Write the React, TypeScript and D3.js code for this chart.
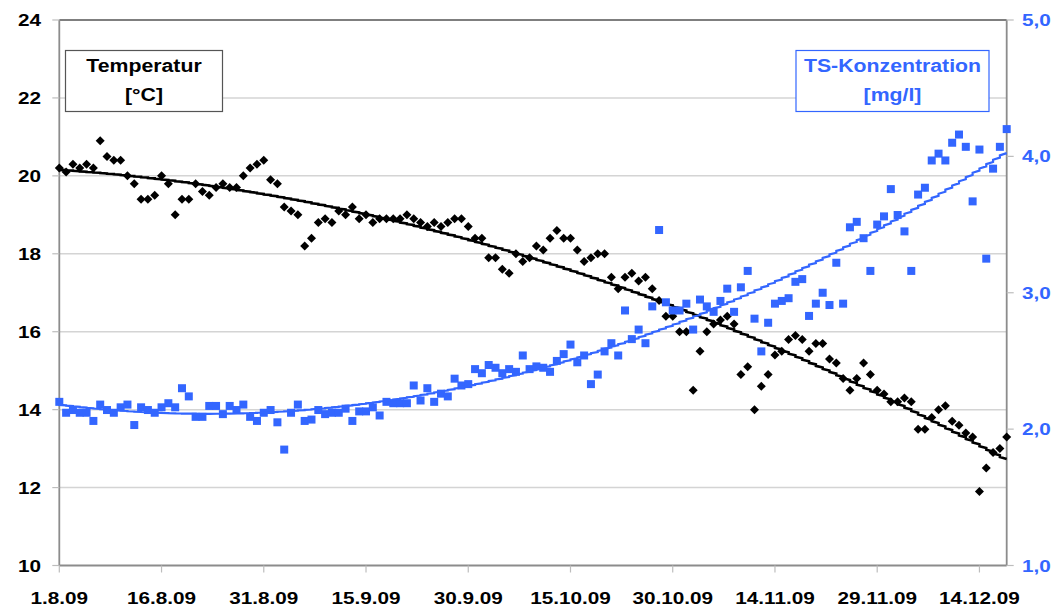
import React, { useEffect, useRef } from 'react';
import * as d3 from 'd3';

// Tageswerte ab 1.8.09
const startDate = new Date(2009, 7, 1);
const endDate = new Date(2009, 11, 18);

const temperatur = [
  20.2, 20.1, 20.3, 20.2, 20.3, 20.2, 20.9, 20.5, 20.4, 20.4,
  20.0, 19.8, 19.4, 19.4, 19.5, 20.0, 19.8, 19.0, 19.4, 19.4,
  19.8, 19.6, 19.5, 19.7, 19.8, 19.7, 19.7, 20.0, 20.2, 20.3,
  20.4, 19.9, 19.8, 19.2, 19.1, 19.0, 18.2, 18.4, 18.8, 18.9,
  18.8, 19.1, 19.0, 19.2, 18.9, 19.0, 18.8, 18.9, 18.9, 18.9,
  18.9, 19.0, 18.9, 18.8, 18.7, 18.8, 18.7, 18.8, 18.9, 18.9,
  18.7, 18.4, 18.4, 17.9, 17.9, 17.6, 17.5, 18.0, 17.8, 17.9,
  18.2, 18.1, 18.4, 18.6, 18.4, 18.4, 18.1, 17.8, 17.9, 18.0,
  18.0, 17.4, 17.1, 17.4, 17.5, 17.3, 17.4, 17.1, 16.8, 16.4,
  16.4, 16.0, 16.0, 14.5, 15.5, 16.0, 16.2, 16.3, 16.4, 16.2,
  14.9, 15.1, 14.0, 14.6, 14.9, 15.4, 15.5, 15.8, 15.9, 15.8,
  15.5, 15.7, 15.7, 15.3, 15.2, 14.8, 14.5, 14.8, 15.2, 14.9,
  14.5, 14.4, 14.2, 14.2, 14.3, 14.2, 13.5, 13.5, 13.8, 14.0,
  14.1, 13.7, 13.6, 13.4, 13.3, 11.9, 12.5, 12.9, 13.0, 13.3,
];

const tsKonzentration = [
  2.20, 2.12, 2.14, 2.12, 2.12, 2.06, 2.18, 2.14, 2.12, 2.16,
  2.18, 2.03, 2.16, 2.14, 2.12, 2.16, 2.19, 2.16, 2.30, 2.24,
  2.09, 2.09, 2.17, 2.17, 2.11, 2.17, 2.14, 2.18, 2.09, 2.06,
  2.12, 2.14, 2.05, 1.85, 2.12, 2.18, 2.06, 2.07, 2.14, 2.11,
  2.12, 2.12, 2.15, 2.06, 2.13, 2.13, 2.16, 2.10, 2.20, 2.19,
  2.19, 2.19, 2.32, 2.21, 2.30, 2.20, 2.26, 2.24, 2.37, 2.32,
  2.33, 2.44, 2.41, 2.47, 2.45, 2.41, 2.44, 2.42, 2.54, 2.44,
  2.46, 2.45, 2.42, 2.50, 2.55, 2.62, 2.49, 2.54, 2.33, 2.40,
  2.57, 2.63, 2.54, 2.87, 2.66, 2.73, 2.63, 2.90, 3.46, 2.93,
  2.87, 2.87, 2.92, 2.73, 2.95, 2.90, 2.86, 2.94, 3.03, 2.86,
  3.04, 3.16, 2.81, 2.57, 2.78, 2.92, 2.94, 2.96, 3.08, 3.10,
  2.83, 2.92, 3.00, 2.91, 3.22, 2.92, 3.48, 3.52, 3.40, 3.16,
  3.50, 3.56, 3.76, 3.57, 3.45, 3.16, 3.72, 3.77, 3.97, 4.02,
  3.97, 4.10, 4.16, 4.07, 3.67, 4.05, 3.25, 3.91, 4.07, 4.20,
];

const leftTicks = [10, 12, 14, 16, 18, 20, 22, 24];
const rightTicks = [1, 2, 3, 4, 5];
const xTickDays = [0, 15, 30, 45, 60, 75, 90, 105, 120, 135];

const BLUE = '#3366ff';
const FONT = '"Liberation Sans", Arial, sans-serif';

// polynomial trend (order 2), like the spreadsheet trendline
function polyfit2(xs: number[], ys: number[]) {
  const s = [0, 0, 0, 0, 0];
  const t = [0, 0, 0];
  xs.forEach((x, i) => {
    for (let k = 0; k < 5; k++) s[k] += Math.pow(x, k);
    for (let k = 0; k < 3; k++) t[k] += Math.pow(x, k) * ys[i];
  });
  const m = [
    [s[0], s[1], s[2], t[0]],
    [s[1], s[2], s[3], t[1]],
    [s[2], s[3], s[4], t[2]],
  ];
  for (let i = 0; i < 3; i++) {
    for (let j = i + 1; j < 3; j++) {
      const f = m[j][i] / m[i][i];
      for (let k = i; k < 4; k++) m[j][k] -= f * m[i][k];
    }
  }
  const c = [0, 0, 0];
  for (let i = 2; i >= 0; i--) {
    let v = m[i][3];
    for (let k = i + 1; k < 3; k++) v -= m[i][k] * c[k];
    c[i] = v / m[i][i];
  }
  return (x: number) => c[0] + c[1] * x + c[2] * x * x;
}

function App() {
  const ref = useRef<SVGSVGElement | null>(null);

  useEffect(() => {
    const width = 1059;
    const height = 609;
    const left = 59.3, right = 1006.7, top = 20, bottom = 565.5;

    const svg = d3.select(ref.current);
    svg.selectAll('*').remove();
    svg.attr('width', width).attr('height', height);

    const x = d3.scaleTime().domain([startDate, endDate]).range([left, right]);
    const yL = d3.scaleLinear().domain([10, 24]).range([bottom, top]);
    const yR = d3.scaleLinear().domain([1, 5]).range([bottom, top]);

    const days = temperatur.map((_, i) => i);
    const dateOf = (i: number) => d3.timeDay.offset(startDate, i);

    const stretchText = (g: any, tx: number, ty: number, txt: string, size: number, sx: number, anchor: string, fill: string) =>
      g.append('text')
        .attr('transform', `translate(${tx},${ty}) scale(${sx},1)`)
        .attr('text-anchor', anchor)
        .attr('font-family', FONT)
        .attr('font-weight', 'bold')
        .attr('font-size', size)
        .attr('fill', fill)
        .text(txt);

    // grid
    svg.append('g')
      .selectAll('line')
      .data(leftTicks.filter(d => d > 10 && d < 24))
      .enter()
      .append('line')
      .attr('x1', left).attr('x2', right)
      .attr('y1', d => yL(d)).attr('y2', d => yL(d))
      .attr('stroke', '#d4d4d4').attr('stroke-width', 1.5);

    svg.append('line')
      .attr('x1', left).attr('x2', right).attr('y1', top).attr('y2', top)
      .attr('stroke', '#000').attr('stroke-width', 1.2);

    // axes lines
    const axisG = svg.append('g').attr('stroke', '#8c8c8c').attr('stroke-width', 1.8);
    axisG.append('line').attr('x1', left).attr('x2', left).attr('y1', top).attr('y2', bottom);
    axisG.append('line').attr('x1', right).attr('x2', right).attr('y1', top).attr('y2', bottom);
    axisG.append('line').attr('x1', left).attr('x2', right).attr('y1', bottom).attr('y2', bottom);

    const tickG = svg.append('g').attr('stroke', '#bdbdbd').attr('stroke-width', 1.2);
    leftTicks.forEach(d => {
      tickG.append('line').attr('x1', left - 7).attr('x2', left).attr('y1', yL(d)).attr('y2', yL(d));
    });
    rightTicks.forEach(d => {
      tickG.append('line').attr('x1', right).attr('x2', right + 7).attr('y1', yR(d)).attr('y2', yR(d));
    });
    xTickDays.forEach(d => {
      tickG.append('line').attr('x1', x(dateOf(d))).attr('x2', x(dateOf(d))).attr('y1', bottom).attr('y2', bottom + 7);
    });

    // tick labels
    const labels = svg.append('g');
    leftTicks.forEach(d => stretchText(labels, 41, yL(d) + 6, String(d), 17, 1.22, 'end', '#000'));
    rightTicks.forEach(d => stretchText(labels, 1022, yR(d) + 6, d3.format('.1f')(d).replace('.', ','), 17, 1.22, 'start', BLUE));
    const fmt = d3.timeFormat('%-d.%-m.%y');
    xTickDays.forEach(d => stretchText(labels, x(dateOf(d)), 604, fmt(dateOf(d)), 17, 1.22, 'middle', '#000'));

    // Temperatur
    const fitT = polyfit2(days, temperatur);
    svg.append('g')
      .selectAll('path')
      .data(temperatur)
      .enter()
      .append('path')
      .attr('d', 'M0,-4.5L4.5,0L0,4.5L-4.5,0Z')
      .attr('transform', (d, i) => `translate(${x(dateOf(i))},${yL(d)})`)
      .attr('fill', '#000');

    const lineT = d3.line<number>().x(i => x(dateOf(i))).y(i => yL(fitT(i)));
    svg.append('path')
      .attr('d', lineT(d3.range(0, 139.01, 0.5)))
      .attr('fill', 'none').attr('stroke', '#000').attr('stroke-width', 2.6);

    // TS-Konzentration
    const fitC = polyfit2(days, tsKonzentration);
    svg.append('g')
      .selectAll('rect')
      .data(tsKonzentration)
      .enter()
      .append('rect')
      .attr('x', (d, i) => x(dateOf(i)) - 4)
      .attr('y', d => yR(d) - 4)
      .attr('width', 8).attr('height', 8)
      .attr('fill', BLUE);

    const lineC = d3.line<number>().x(i => x(dateOf(i))).y(i => yR(fitC(i)));
    svg.append('path')
      .attr('d', lineC(d3.range(0, 139.01, 0.5)))
      .attr('fill', 'none').attr('stroke', BLUE).attr('stroke-width', 2.2);

    // legend boxes
    const legT = svg.append('g');
    legT.append('rect').attr('x', 65.5).attr('y', 50.5).attr('width', 157).attr('height', 61)
      .attr('fill', '#fff').attr('stroke', '#555').attr('stroke-width', 1.2);
    stretchText(legT, 144, 72, 'Temperatur', 18.5, 1.15, 'middle', '#000');
    stretchText(legT, 144, 101, '[°C]', 18.5, 1.15, 'middle', '#000');

    const legC = svg.append('g');
    legC.append('rect').attr('x', 796).attr('y', 50.5).attr('width', 193).attr('height', 61)
      .attr('fill', '#fff').attr('stroke', BLUE).attr('stroke-width', 1.2);
    stretchText(legC, 892.5, 72, 'TS-Konzentration', 18.5, 1.15, 'middle', BLUE);
    stretchText(legC, 892.5, 101, '[mg/l]', 18.5, 1.15, 'middle', BLUE);

    return () => {
      d3.select(ref.current).selectAll('*').remove();
    };
  }, []);

  return (
    <div style={{ position: 'absolute', left: 0, top: 0, width: 1059, height: 609, background: '#fff' }}>
      <svg ref={ref} style={{ display: 'block' }}></svg>
    </div>
  );
}

export default App;
